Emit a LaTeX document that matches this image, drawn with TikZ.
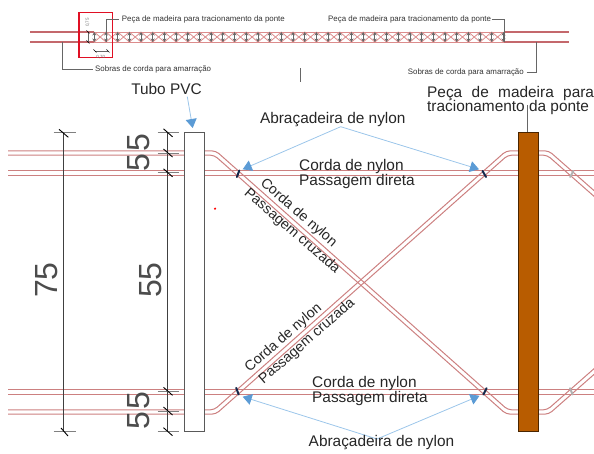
\documentclass[tikz,border=0pt]{standalone}
\usepackage{fontspec}
\setmainfont{Liberation Sans}
\usetikzlibrary{arrows.meta}
\definecolor{ropec}{HTML}{CC8080}
\definecolor{ropes}{HTML}{C4686C}
\definecolor{latt}{HTML}{DC8C8C}
\definecolor{lead}{HTML}{666666}
\definecolor{call}{HTML}{9CC6EA}
\definecolor{callh}{HTML}{5B9BD5}
\definecolor{wood}{HTML}{B85C00}
\definecolor{clampc}{HTML}{14284B}
\definecolor{txt}{HTML}{262626}
\tikzset{
  x=1pt,y=-1pt,
  rope/.style={draw=ropec,line width=1pt,rounded corners=4pt},
  striprope/.style={draw=ropes,line width=1.3pt},
  dimline/.style={draw=black!75,line width=0.8pt},
  dimtick/.style={draw=black,line width=0.9pt},
  dimext/.style={draw=black!50,line width=0.8pt},
  leader/.style={draw=lead,line width=0.7pt},
  callout/.style={draw=call,line width=0.8pt,-{Triangle[length=9pt,width=11pt,color=callh]}},
  clamp/.style={draw=clampc,line width=2pt,line cap=round},
  clampg/.style={draw=black!30,line width=2pt,line cap=round},
  lbl/.style={inner sep=0pt,text=txt,font=\fontsize{15.4}{16}\selectfont},
  diag/.style={inner sep=0pt,text=txt,font=\fontsize{14.2}{15}\selectfont},
  small/.style={inner sep=0pt,text=black!80,font=\fontsize{7.9}{8}\selectfont},
  tiny/.style={inner sep=0pt,text=black!55,font=\fontsize{4.5}{5}\selectfont},
  num/.style={inner sep=0pt,rotate=90,text=black!70,font=\fontsize{32}{32}\selectfont},
}
\begin{document}
\begin{tikzpicture}
\useasboundingbox (0,0) rectangle (594,454);
\clip (0,0) rectangle (594,454);
% ---------- top strip
\foreach \i in {0,...,34}{
  \pgfmathsetmacro{\xa}{94.3+11.69*\i}
  \pgfmathsetmacro{\xb}{\xa+11.69}
  \draw[latt,line width=0.8pt] (\xa,32)--(\xb,42) (\xa,42)--(\xb,32);
}
\draw[latt,line width=0.9pt] (94,32)--(504,32) (94,42)--(504,42);
\foreach \i in {0,...,35}{
  \pgfmathsetmacro{\xa}{94.3+11.69*\i}
  \draw[lead,line width=0.8pt,{Stealth[length=3.5pt,width=4pt]}-{Stealth[length=3.5pt,width=4pt]}] (\xa,32)--(\xa,42);
}
\draw[striprope] (30,32)--(94,32) (30,42)--(94,42) (504,32)--(569,32) (504,42)--(569,42);
\draw[draw={rgb,255:red,224;green,16;blue,36},line width=1.5pt] (79,12.5) rectangle (112.3,57.5);
\draw[leader] (118.5,19.7)--(106,19.7)--(106,42);
\draw[leader] (491.7,19.7)--(504,19.7)--(504,42);
\draw[leader] (62.7,42)--(62.7,69.3)--(93,69.3);
\draw[leader] (526.5,72)--(536.7,72)--(536.7,42);
\draw[leader] (300.8,68.3)--(300.8,82.3);
\node[small,anchor=west] (pecaA) at (121.7,19.7) {Peça de madeira para tracionamento da ponte};
\node[small,anchor=east] (pecaB) at (491.3,19.7) {Peça de madeira para tracionamento da ponte};
\node[small,anchor=west] (sobA) at (95,69.5) {Sobras de corda para amarração};
\node[small,anchor=east] (sobB) at (524,72.2) {Sobras de corda para amarração};
% small dimensions
\draw[black!60,line width=0.5pt] (88,32)--(88,42);
\draw[black,line width=0.7pt] (86.5,30.5)--(89.5,33.5) (86.5,40.5)--(89.5,43.5);
\draw[black!60,line width=0.5pt] (95,51)--(108,51);
\draw[black,line width=0.7pt] (93.5,49.5)--(96.5,52.5) (106.5,49.5)--(109.5,52.5);
\node[tiny,rotate=90] (d75) at (87.5,22.5) {0,75};
\node[tiny] (d70) at (100.8,57) {0,70};
% ---------- ropes
\draw[rope] (8,171)--(594,171) (8,175.3)--(594,175.3) (8,389.7)--(594,389.7) (8,394)--(594,394);
\foreach \s in {-1,1}{
  \draw[rope] (8,153+\s*2.15)--(215-\s*.82,153+\s*2.15)--(507-\s*.82,412+\s*2.15)--(548+\s*.82,412+\s*2.15)--(600+\s*.82,366.3+\s*2.15);
  \draw[rope] (8,412+\s*2.15)--(215+\s*.82,412+\s*2.15)--(507+\s*.82,153+\s*2.15)--(548-\s*.82,153+\s*2.15)--(600-\s*.82,198.7+\s*2.15);
}
% ---------- clamps
\draw[clamp] (239.3,170.5)--(236.9,177);
\draw[clamp] (482.6,171)--(486,177);
\draw[clamp] (236.2,387.8)--(238.6,394.5);
\draw[clamp] (486.6,388.2)--(483.4,394.5);
\draw[clampg] (573.3,171)--(570.2,177);
\draw[clampg] (570,388.2)--(572.6,394.5);
% ---------- dimensions
\draw[dimline] (63.5,133)--(63.5,431.7);
\draw[dimline] (167.8,133)--(167.8,431.7);
\draw[dimext] (53.5,132.8)--(76,132.8) (53.5,431.7)--(76,431.7);
\draw[dimtick] (59,129.3)--(68.3,137.3) (61,428)--(68,436);
\foreach \y in {132.8,153,172.8,391.3,411,431.7}{
  \draw[dimext] (157.7,\y)--(179.3,\y);
  \draw[dimtick] (163.5,\y-4)--(172.5,\y+4);
}
\node[num] (n5a) at (138.5,143) {5};
\node[num] (n5b) at (138.5,162.7) {5};
\node[num] (n55) at (150.5,280) {55};
\node[num] (n75) at (46.5,280) {75};
\node[num] (n5c) at (138.5,401) {5};
\node[num] (n5d) at (138.5,420.7) {5};
% ---------- members
\draw[fill=white,draw=black!65,line width=1pt] (184,132.8) rectangle (204.3,431.7);
\draw[leader,line width=1pt,draw=black!60] (527.7,105)--(527.7,133);
\draw[fill=wood,draw=black!60!wood,line width=1pt] (518,132.8) rectangle (538.3,431.7);
\fill[red] (215,208.7) circle (1.2);
% ---------- callouts
\coordinate (a1) at (340.7,126.7);
\coordinate (a1l) at (242.7,169.3);
\coordinate (a1r) at (479,169.3);
\coordinate (a2) at (377,439);
\coordinate (a2l) at (242.7,396.7);
\coordinate (a2r) at (479.5,395.8);
\node[lbl] (tubo) at (166.5,89) {Tubo PVC};
\coordinate (tubot) at (187.3,96.7);
\coordinate (tuboh) at (192.7,128);
\draw[callout] (tubot)--(tuboh);
\draw[callout] (a1)--(a1l);
\draw[callout] (a1)--(a1r);
\draw[callout] (a2)--(a2l);
\draw[callout] (a2)--(a2r);
% ---------- labels
\node[lbl] (abr1) at (332.8,120) {Abraçadeira de nylon};
\node[lbl] (abr2) at (381.5,443) {Abraçadeira de nylon};
\node[lbl,anchor=west] (cd1) at (299,166.5) {Corda de nylon};
\node[lbl,anchor=west] (pd1) at (299,181.7) {Passagem direta};
\node[lbl,anchor=west] (cd2) at (312,384) {Corda de nylon};
\node[lbl,anchor=west] (pd2) at (312,399) {Passagem direta};
\node[diag,rotate=-41] (cc1) at (298.5,213) {Corda de nylon};
\node[diag,rotate=-41] (pc1) at (292,231.5) {Passagem cruzada};
\node[diag,rotate=41] (cc2) at (283.5,338) {Corda de nylon};
\node[diag,rotate=41] (pc2) at (307,341.5) {Passagem cruzada};
\node[lbl,anchor=west] (pm1) at (427,93.3) {Peça\hspace{0.61em}de\hspace{0.61em}madeira\hspace{0.61em}para};
\node[lbl,anchor=west] (pm2) at (427,108) {tracionamento da ponte};
\end{tikzpicture}
\end{document}
